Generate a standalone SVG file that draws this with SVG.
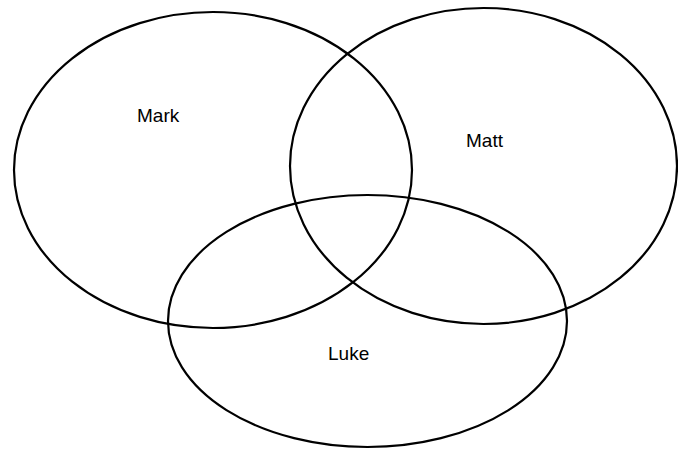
<svg xmlns="http://www.w3.org/2000/svg" width="678" height="449" viewBox="0 0 678 449">
<style>
.c{fill:none;stroke:#000;stroke-width:2.2}
.t{font-family:"Liberation Sans",Arial,sans-serif;font-size:19px;fill:#000}
</style>
<rect width="678" height="449" fill="#fff"/>
<g id="mark"><ellipse class="c" cx="213" cy="170" rx="199" ry="158"/><text class="t" x="137" y="122">Mark</text></g>
<g id="matt"><ellipse class="c" cx="483.5" cy="166" rx="193.5" ry="158"/><text class="t" x="466" y="147">Matt</text></g>
<g id="luke"><ellipse class="c" cx="367.5" cy="321" rx="199.5" ry="126"/><text class="t" x="328" y="360">Luke</text></g>
</svg>
